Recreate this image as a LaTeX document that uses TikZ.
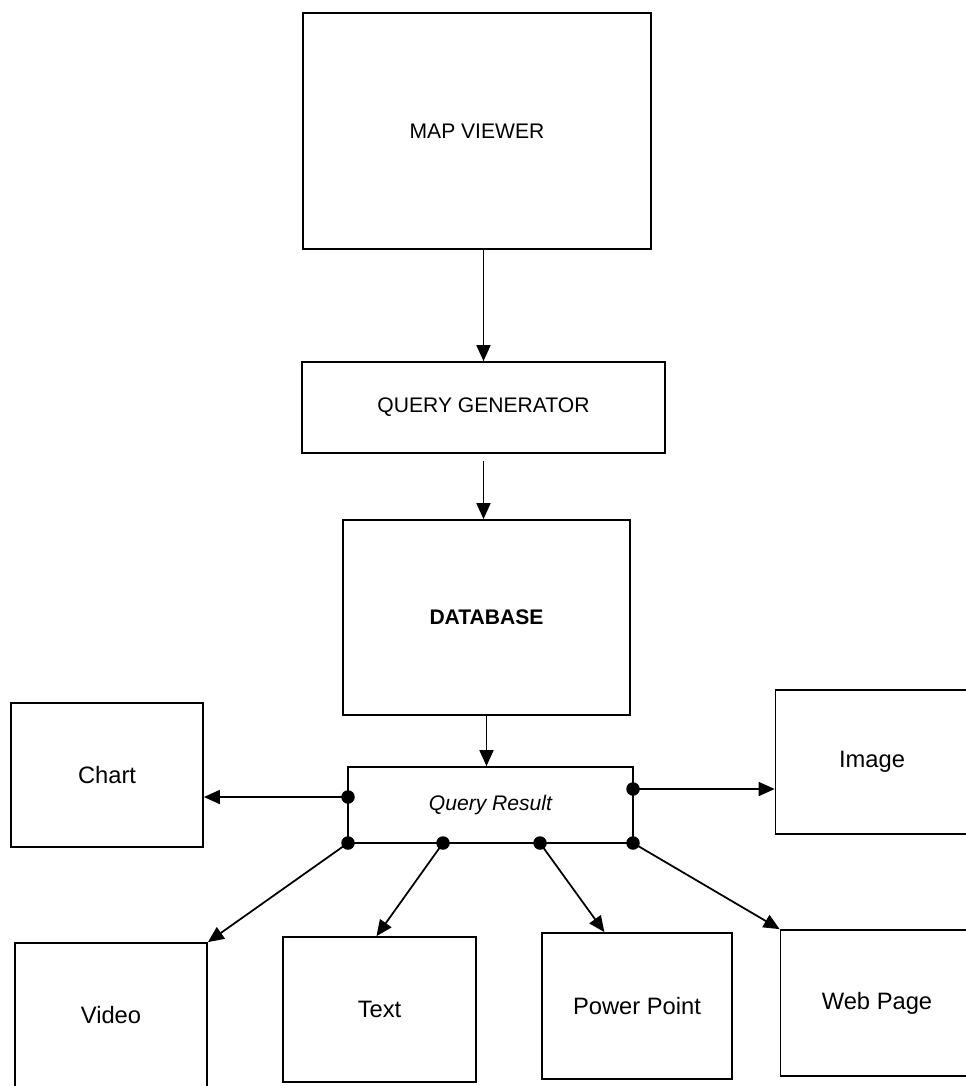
\documentclass[tikz,border=0pt]{standalone}
\usepackage{fontspec}
\setmainfont{Liberation Sans}
\usepackage{tikz}
\usetikzlibrary{calc, arrows.meta, positioning}

\begin{document}
\begin{tikzpicture}[
            x=0.02cm, y=-0.02cm,
            box/.style={draw, line width=1pt, inner sep=0pt, font=\fontsize{12}{14}\selectfont},
            outbox/.style={box, minimum width=3.86cm, minimum height=2.9cm, font=\fontsize{13.5}{16}\selectfont},
            dot/.style={circle, fill, inner sep=0pt, minimum size=0.27cm},
            edge/.style={line width=1pt, -{Triangle[length=0.32cm, width=0.28cm]}}
        ]

        \useasboundingbox (0,0) rectangle (965,1086);

        % Nodes (manual layout to match figure)
        \node[box, minimum width=6.96cm, minimum height=4.72cm] (viewer) at (477, 131) {MAP VIEWER};
        \node[box, minimum width=7.26cm, minimum height=1.82cm] (query) at (483.5, 407.5) {QUERY GENERATOR};
        \node[box, minimum width=5.74cm, minimum height=3.9cm] (db) at (486.5, 617.5) {\bfseries DATABASE};
        \node[box, minimum width=5.7cm, minimum height=1.52cm] (result) at (490.5, 805) {\itshape Query Result};

        \node[outbox, minimum width=3.84cm, minimum height=2.88cm] (chart) at (107, 775) {Chart};
        \node[outbox, minimum height=2.88cm] (image) at (872, 762) {Image};
        \node[outbox, minimum width=3.84cm, minimum height=2.88cm] (video) at (111, 1015) {Video};
        \node[outbox] (text) at (379.5, 1009.5) {Text};
        \node[outbox, minimum width=3.8cm, minimum height=2.92cm] (ppt) at (637, 1006) {Power Point};
        \node[outbox, minimum height=2.92cm] (web) at (877, 1003) {Web Page};

        % Connection points on the result box
        \node[dot] (pl) at (348, 797) {};
        \node[dot] (pr) at (633, 789) {};
        \node[dot] (b1) at (348, 843) {};
        \node[dot] (b2) at (443, 843) {};
        \node[dot] (b3) at (540, 843) {};
        \node[dot] (b4) at (633, 843) {};

        % Edges
        \draw[edge] (query.north |- viewer.south) -- (query.north);
        \draw[edge, shorten <=0.14cm] (query.south) -- (query.south |- db.north);
        \draw[edge] (db.south) -- (db.south |- result.north);

        \draw[edge] (pl.center) -- (pl.center -| chart.east);
        \draw[edge] (pr.center) -- (pr.center -| image.west);

        \draw[edge] (b1.center) -- (video.north east);
        \draw[edge] (b2.center) -- ($(text.north)+(-3,0)$);
        \draw[edge] (b3.center) -- ($(ppt.north west)!0.33!(ppt.north east)$);
        \draw[edge] (b4.center) -- (web.north west);

    \end{tikzpicture}
\end{document}
